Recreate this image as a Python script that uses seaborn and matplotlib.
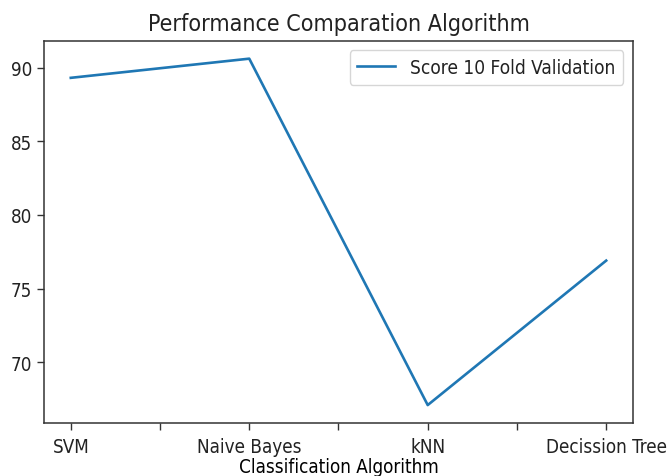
import matplotlib
matplotlib.use("Agg")
import matplotlib.pyplot as plt
import seaborn as sns
import pandas as pd

algorithms = ["SVM", "Naive Bayes", "kNN", "Decission Tree"]
scores = [89.3, 90.6, 67.1, 76.9]
series_name = "Score 10 Fold Validation"

plt.rcParams["font.family"] = ["DejaVu Sans"]
plt.rcParams["font.stretch"] = "condensed"
plt.rcParams["font.size"] = 13.5
plt.rcParams["text.color"] = "#222222"
plt.rcParams["xtick.labelcolor"] = "#222222"
plt.rcParams["ytick.labelcolor"] = "#222222"

df = pd.DataFrame({"pos": range(len(algorithms)), "score": scores,
                   "series": series_name})

fig = plt.figure(figsize=(6.7, 4.77), dpi=100)
ax = fig.add_axes([0.0657, 0.111, 0.879, 0.801])
sns.lineplot(data=df, x="pos", y="score", hue="series", sort=False,
             palette=["#1f77b4"], linewidth=1.9, ax=ax)

ticks = [0, 0.5, 1, 1.5, 2, 2.5, 3]
labels = []
for t in ticks:
    labels.append(algorithms[int(t)] if float(t).is_integer() else "")
ax.set_xticks(ticks)
ax.set_xticklabels(labels)
ax.set_xlim(-0.15, 3.15)
ax.set_yticks([70, 75, 80, 85, 90])
ax.set_ylim(65.88, 91.8)
ax.tick_params(length=5, width=1, labelsize=13.5, color="#333333")
ax.tick_params(axis="x", pad=5)
ax.set_xlabel("Classification Algorithm", fontsize=13.5, labelpad=0.5)
ax.set_ylabel("")
ax.set_title("Performance Comparation Algorithm", fontsize=16.7, pad=8)
ax.legend(loc="upper right", fontsize=13.7)
for s in ax.spines.values():
    s.set_linewidth(1.1)
    s.set_color("#333333")
fig.savefig("out.png", dpi=100)
